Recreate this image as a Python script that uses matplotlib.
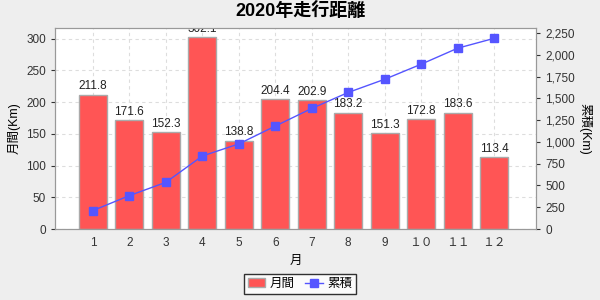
import numpy as np
import matplotlib
matplotlib.use("Agg")
import matplotlib.pyplot as plt
from matplotlib.ticker import FuncFormatter, MultipleLocator

plt.rcParams['font.family'] = ['Liberation Sans', 'Noto Sans CJK JP', 'DejaVu Sans']

# Data
months = ["1", "2", "3", "4", "5", "6", "7", "8", "9", "１０", "１１", "１２"]
monthly = [211.8, 171.6, 152.3, 302.1, 138.8, 204.4, 202.9, 183.2, 151.3, 172.8, 183.6, 113.4]
cumulative = np.cumsum(monthly)

bar_color = "#FF5555"
line_color = "#5555FF"

fig = plt.figure(figsize=(6, 3), dpi=100, facecolor="#EEEEEE")
ax = fig.add_axes([55 / 600, 1 - 229 / 300, 481 / 600, 201 / 300])
ax.set_facecolor("white")

x = np.arange(len(months))
bars = ax.bar(x, monthly, width=0.77, color=bar_color, edgecolor="#AAAAAA",
              linewidth=1.0, label="月間", zorder=2)
for xi, v in zip(x, monthly):
    ax.text(xi, v + 4, f"{v:.1f}", ha="center", va="bottom", fontsize=8.5,
            color="#222222", clip_on=True, zorder=4)

ax.set_xlim(-1.04, 12.15)
ax.set_ylim(0, 317)
ax.yaxis.set_major_locator(MultipleLocator(50))
ax.set_xticks(x)
ax.set_xticklabels(months, fontsize=8.5, color="#333333")
ax.tick_params(axis="x", length=0, pad=6)
ax.tick_params(axis="y", labelsize=8.5, colors="#333333", length=3, direction="out")
ax.grid(True, color="#DDDDDD", linestyle=(0, (3, 3)), linewidth=0.8, zorder=0)
ax.set_xlabel("月", fontsize=9, labelpad=4)
ax.set_ylabel("月間(Km)", fontsize=9, labelpad=4)
for s in ax.spines.values():
    s.set_color("#999999")

ax2 = ax.twinx()
line, = ax2.plot(x, cumulative, color=line_color, marker="s", markersize=6,
                 linewidth=1.0, label="累積", zorder=3)
ax2.set_ylim(0, 2307)
ax2.yaxis.set_major_locator(MultipleLocator(250))
ax2.yaxis.set_major_formatter(FuncFormatter(lambda v, p: f"{int(v):,}"))
ax2.tick_params(axis="y", labelsize=8.5, colors="#333333", length=3, direction="out")
ax2.set_ylabel("累積(Km)", fontsize=9, rotation=-90, labelpad=12)
for s in ax2.spines.values():
    s.set_color("#999999")

fig.suptitle("2020年走行距離", fontsize=13, fontweight="bold", y=0.995)

leg = fig.legend([bars, line], ["月間", "累積"], loc="center",
                 bbox_to_anchor=(300 / 600, 1 - 284 / 300), ncol=2, fontsize=9,
                 frameon=True, fancybox=False, handlelength=1.4,
                 handletextpad=0.4, columnspacing=0.8, borderpad=0.3)
leg.get_frame().set_edgecolor("black")
leg.get_frame().set_linewidth(1.0)

fig.savefig("out.png", dpi=100, facecolor=fig.get_facecolor())
